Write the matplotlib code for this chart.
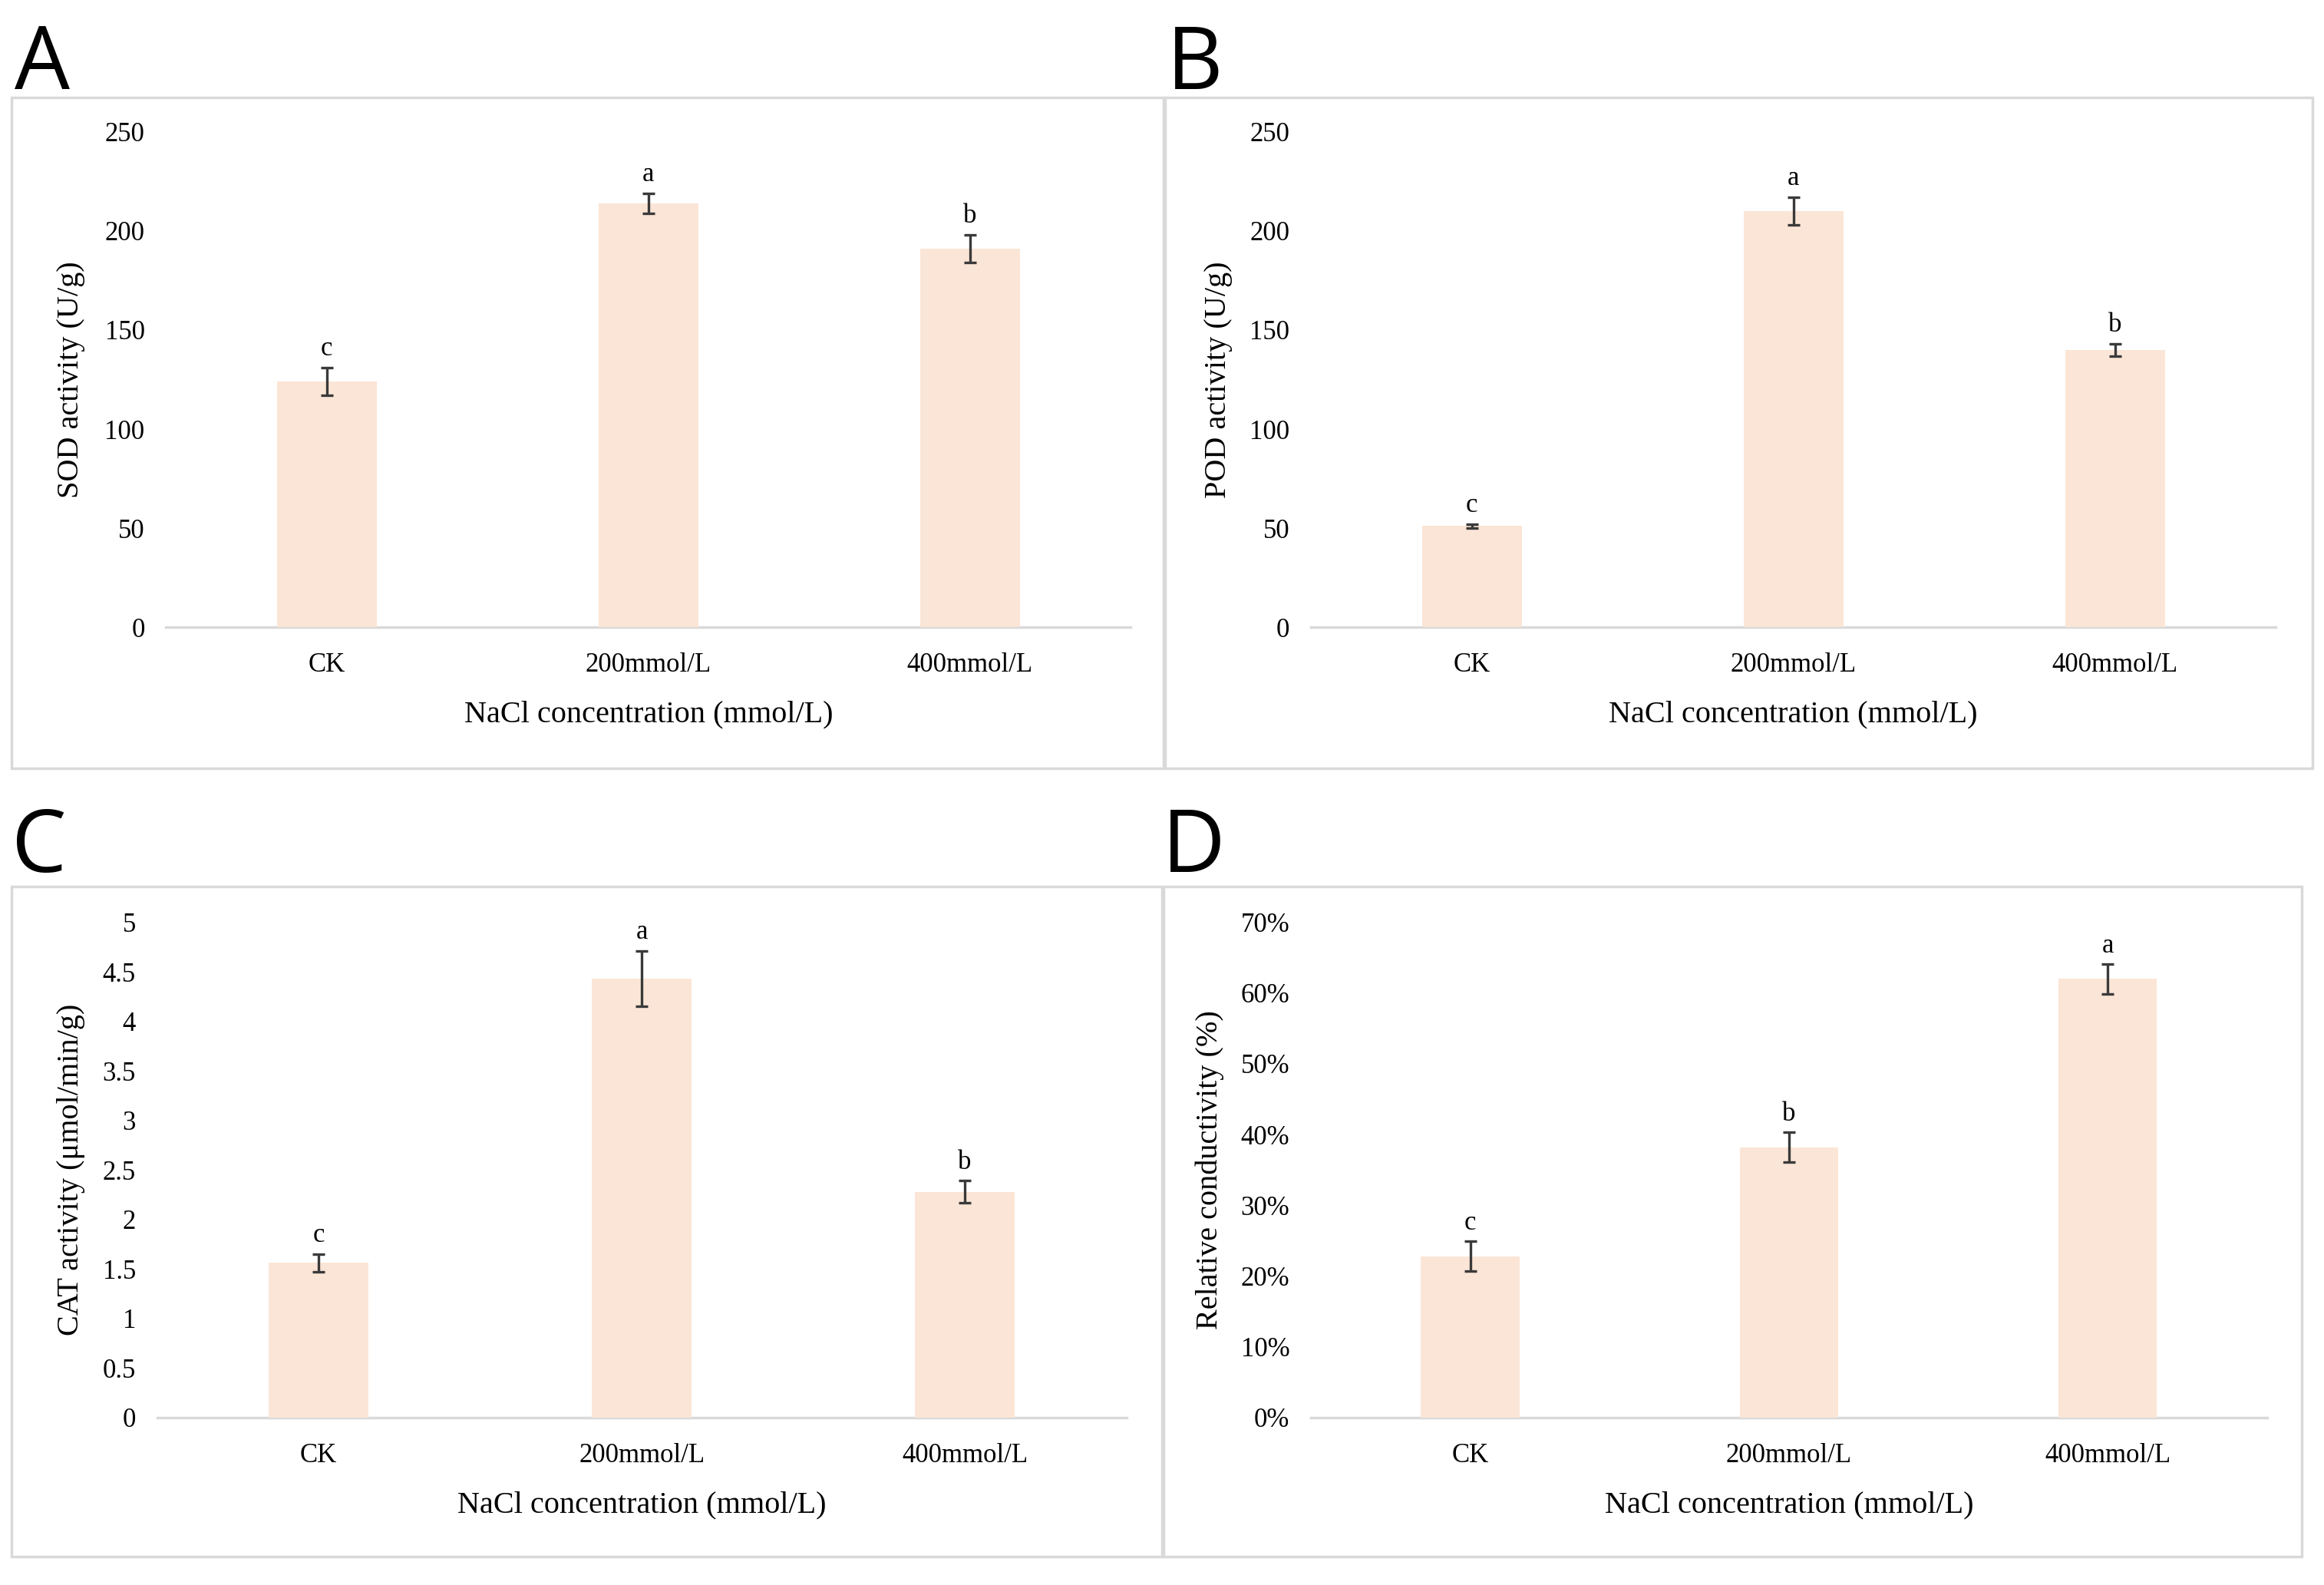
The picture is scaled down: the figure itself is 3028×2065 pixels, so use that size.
import matplotlib
matplotlib.use("Agg")
import matplotlib.pyplot as plt
from matplotlib.patches import Rectangle
from matplotlib.ticker import FuncFormatter, MultipleLocator

# ---------------- data ----------------
categories = ["CK", "200mmol/L", "400mmol/L"]
xlabel = "NaCl concentration (mmol/L)"

sod_values = [124, 214, 191]
sod_err = [7, 5, 7]
sod_letters = ["c", "a", "b"]

pod_values = [51, 210, 140]
pod_err = [1, 7, 3]
pod_letters = ["c", "a", "b"]

cat_values = [1.56, 4.43, 2.28]
cat_err = [0.09, 0.28, 0.11]
cat_letters = ["c", "a", "b"]

rc_values = [0.228, 0.382, 0.620]
rc_err = [0.021, 0.021, 0.021]
rc_letters = ["c", "b", "a"]

panel_letters = ["A", "B", "C", "D"]
ylabels = ["SOD activity (U/g)", "POD activity (U/g)",
           "CAT activity (\u03bcmol/min/g)", "Relative conductivity (%)"]

# ---------------- style ----------------
W, H = 1568.0, 1069.0  # reference layout units
BAR = "#FBE5D6"
ERR = "#3A3A3A"
GRID = "#D9D9D9"
SERIF = ["Liberation Serif", "DejaVu Serif"]

fig = plt.figure(figsize=(30.28, 20.65), dpi=100)


def fx(x):
    return x / W


def fy(y):
    return 1 - y / H


def panel(box, axrect, letter_xy, letter, values, err, letters, ylabel,
          ymax, step, fmt, letter_off, ylab_x):
    bx0, by0, bx1, by1 = box
    fig.add_artist(Rectangle((fx(bx0), fy(by1)), fx(bx1) - fx(bx0), fy(by0) - fy(by1),
                             transform=fig.transFigure, fill=False,
                             edgecolor=GRID, linewidth=2.5))
    fig.text(fx(letter_xy[0]), fy(letter_xy[1]), letter, fontsize=82,
             family=["Open Sans", "DejaVu Sans"], ha="left", va="baseline")
    x0, x1, yb, yt = axrect
    ax = fig.add_axes([fx(x0), fy(yb), fx(x1) - fx(x0), fy(yt) - fy(yb)])
    pos = list(range(len(categories)))
    ax.bar(pos, values, width=0.31, color=BAR, zorder=2)
    ax.errorbar(pos, values, yerr=err, fmt="none", ecolor=ERR, elinewidth=2.4,
                capsize=6, capthick=2.4, zorder=3)
    for p, v, e, t in zip(pos, values, err, letters):
        ax.text(p, v + e + letter_off, t, ha="center", va="bottom",
                fontsize=25, family=SERIF)
    ax.set_xlim(-0.5, len(categories) - 0.5)
    ax.set_ylim(0, ymax)
    ax.yaxis.set_major_locator(MultipleLocator(step))
    ax.yaxis.set_major_formatter(FuncFormatter(fmt))
    ax.set_xticks(pos)
    ax.set_xticklabels(categories)
    for s in ["top", "right", "left"]:
        ax.spines[s].set_visible(False)
    ax.spines["bottom"].set_color(GRID)
    ax.spines["bottom"].set_linewidth(2.5)
    ax.spines["bottom"].set_zorder(1)
    ax.tick_params(axis="both", length=0, labelsize=25)
    ax.tick_params(axis="y", pad=20)
    ax.tick_params(axis="x", pad=24)
    for lab in ax.get_xticklabels() + ax.get_yticklabels():
        lab.set_family(SERIF)
    ax.set_xlabel(xlabel, fontsize=29, family=SERIF, labelpad=21)
    fig.text(fx(ylab_x), (fy(yb) + fy(yt)) / 2, ylabel, rotation=90,
             ha="center", va="center", fontsize=29, family=SERIF)
    ax.patch.set_alpha(0)
    return ax


num = lambda v, p: "%g" % v
pct = lambda v, p: "%d%%" % round(v * 100)

panel((8, 66, 785, 518), (112, 763, 423, 89), (10, 60), panel_letters[0],
      sod_values, sod_err, sod_letters, ylabels[0], 250, 50, num, 3, 48)
panel((786, 66, 1560, 518), (884.5, 1535.5, 423, 89), (787, 60), panel_letters[1],
      pod_values, pod_err, pod_letters, ylabels[1], 250, 50, num, 3, 822)
panel((8, 598, 784, 1050), (106, 760, 956, 622), (8, 588), panel_letters[2],
      cat_values, cat_err, cat_letters, ylabels[2], 5, 0.5, num, 0.06, 48)
panel((785, 598, 1553, 1050), (884.5, 1529.5, 956, 622), (784, 588), panel_letters[3],
      rc_values, rc_err, rc_letters, ylabels[3], 0.70, 0.10, pct, 0.008, 816)

fig.savefig("out.png", dpi=100, facecolor="white")
